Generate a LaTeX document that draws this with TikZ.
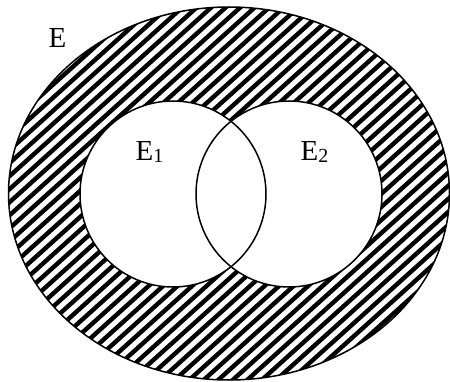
\documentclass[tikz,border=0pt]{standalone}
\usepackage{fontspec}
\setmainfont{Liberation Serif}
\tikzset{
  outline/.style={line width=1.5pt, draw=black},
  hatch/.style={line width=4.4pt, draw=black},
  lbl/.style={inner sep=0pt, anchor=base west, font=\fontsize{29}{29}\selectfont},
}
\newcommand{\subnum}[1]{\raisebox{-2pt}{\fontsize{20}{20}\selectfont #1}}
\begin{document}
\begin{tikzpicture}[x=1pt,y=-1pt]
\useasboundingbox (0,0) rectangle (450,382);
\begin{scope}
  \clip (229,193.5) ellipse [x radius=220.5, y radius=186.5];
  \foreach \c in {-500,-485.5,...,470} {
    \draw[hatch] (\c,400) -- ({\c+444},0);
  }
\end{scope}
\fill[white] (173,194) circle [radius=93];
\fill[white] (289,194) circle [radius=93];
\draw[outline] (229,193.5) ellipse [x radius=220.5, y radius=186.5];
\draw[outline] (173,194) circle [radius=93];
\draw[outline] (289,194) circle [radius=93];
\node[lbl] (e) at (48.5,48) {E};
\node[lbl] (e1) at (135.5,161) {E\subnum{1}};
\node[lbl] (e2) at (300.5,161) {E\subnum{2}};
\end{tikzpicture}
\end{document}
